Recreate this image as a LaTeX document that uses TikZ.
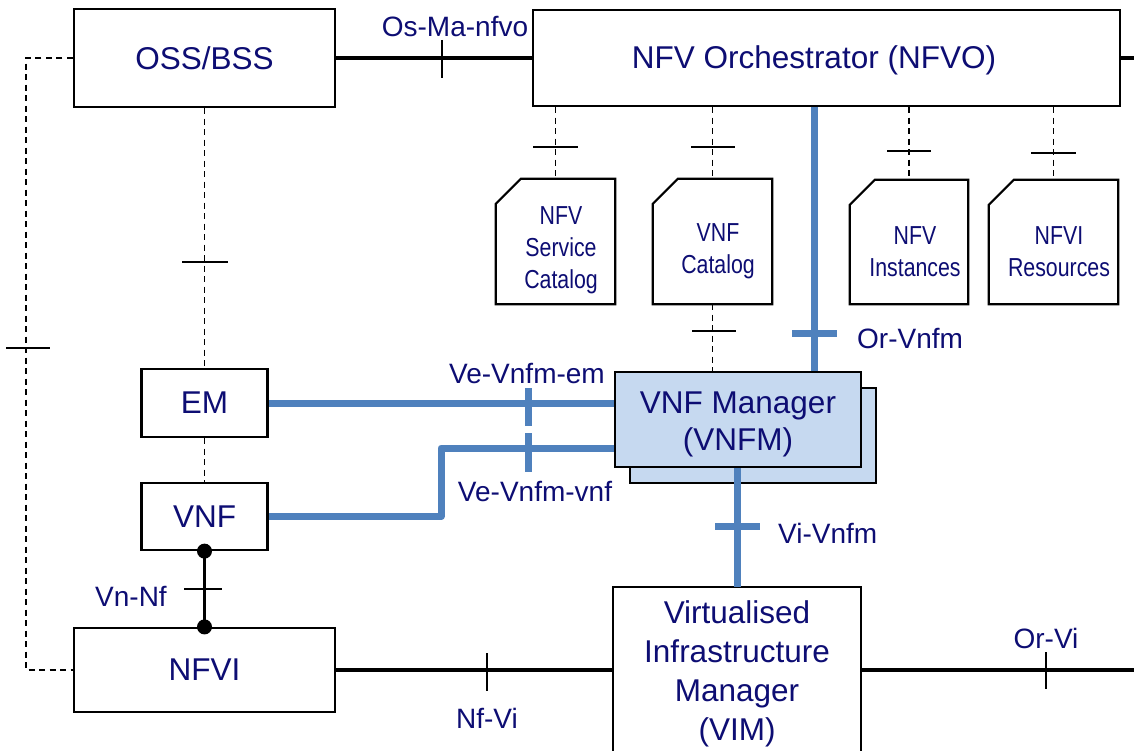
\documentclass[tikz,border=0pt]{standalone}
\usepackage{fontspec}
\setmainfont{Liberation Sans}
\newfontfamily\narrowfont[FakeStretch=0.82]{Liberation Sans}
\usetikzlibrary{calc}
\definecolor{navy}{RGB}{13,13,115}
\definecolor{ifblue}{RGB}{79,129,189}
\definecolor{vnfmfill}{RGB}{198,217,240}
\pgfdeclarelayer{bg}
\pgfsetlayers{bg,main}
\begin{document}
\begin{tikzpicture}[x=1pt,y=-1pt,
  box/.style={draw=black, line width=2.2pt, fill=white, inner sep=0pt, text=navy,
    font=\fontsize{31.5}{38.5}\selectfont, align=center},
  catbox/.style={draw=none, inner sep=0pt},
  catline/.style={draw=black, fill=white, line width=2.2pt},
  maintxt/.style={text=navy, font=\fontsize{31.5}{38.5}\selectfont, inner sep=0pt, align=center},
  lbl/.style={text=navy, font=\fontsize{28}{33}\selectfont, inner sep=0pt},
  cattxt/.style={text=navy, font=\narrowfont\fontsize{26}{32}\selectfont, align=center, inner sep=0pt},
  refline/.style={line width=3.8pt, black},
  dsh/.style={line width=1.9pt, black, dash pattern=on 6pt off 4.5pt},
  tick/.style={line width=1.8pt, black},
  bl/.style={line width=7pt, ifblue},
  dot/.style={black},
  ]
\useasboundingbox (0,0) rectangle (1134,751);

% ---- main boxes ----
\node[box, minimum width=261pt, minimum height=98pt] (oss) at (204.5,58) {OSS/BSS};
\node[box, minimum width=587pt, minimum height=96pt] (nfvo) at (826.5,58) {};
\node[maintxt] (nfvot) at (814,60) {NFV Orchestrator (NFVO)};
\node[box, minimum width=126pt, minimum height=68pt] (em) at (204.5,403) {EM};
\node[box, minimum width=126pt, minimum height=67pt] (vnf) at (204.5,516.5) {VNF};
\node[box, minimum width=261pt, minimum height=84pt] (nfvi) at (204.5,670) {NFVI};
\node[box, fill=vnfmfill, minimum width=246pt, minimum height=95pt] (vnfm) at (738,419.5) {};
\node[maintxt, font=\fontsize{31.5}{37}\selectfont] (vnfmt) at (738,424.5) {VNF Manager\\(VNFM)};
\node[box, draw=none, fill=none, minimum width=246pt, minimum height=163pt] (vim) at (737,669.5) {};
\draw[line width=2.2pt] (vim.south west) |- (vim.north east) -- (vim.south east);
\node[maintxt, font=\fontsize{31.5}{39}\selectfont] (vimt) at (737,674) {Virtualised\\Infrastructure\\Manager\\(VIM)};

% ---- catalogs ----
\node[catbox, minimum width=119pt, minimum height=125pt] (cat1) at (555.5,241.5) {};
\node[catbox, minimum width=119pt, minimum height=125pt] (cat2) at (712.5,241.5) {};
\node[catbox, minimum width=118pt, minimum height=124pt] (cat3) at (909,242) {};
\node[catbox, minimum width=129pt, minimum height=124pt] (cat4) at (1053.5,242) {};
\foreach \c in {cat1,cat2,cat3,cat4}{
  \draw[catline] ($(\c.north west)+(0,25)$) -- ($(\c.north west)+(25,0)$)
    -- (\c.north east) -- (\c.south east) -- (\c.south west) -- cycle;
}
\node[cattxt] (cat1t) at (561,250) {NFV\\Service\\Catalog};
\node[cattxt] (cat2t) at (718,251) {VNF\\Catalog};
\node[cattxt] (cat3t) at (915,252) {NFV\\Instances};
\node[cattxt] (cat4t) at (1059,252) {NFVI\\Resources};

% ---- connectors (behind boxes) ----
\begin{pgfonlayer}{bg}
\node[box, fill=vnfmfill, minimum width=246pt, minimum height=95pt] (vnfmb) at (753,435.5) {};
% black reference points
\coordinate (nfvoR) at (1134,58);
\coordinate (vimR) at (1134,670);
\draw[refline] (oss.east) -- (oss.east -| nfvo.west);
\draw[refline] (nfvo.east |- nfvoR) -- (nfvoR);
\draw[refline] (nfvi.east) -- (nfvi.east -| vim.west);
\draw[refline] (vim.east |- vimR) -- (vimR);
\draw[refline] (vnf.south) -- (nfvi.north);
% dashed links
\coordinate (lft) at (26,0);
\draw[dsh] (oss.west) -- (oss.west -| lft) -- (nfvi.west -| lft) -- (nfvi.west);
\draw[dsh] (oss.south) -- (em.north);
\draw[dsh] (em.south) -- (vnf.north);
\draw[dsh] (cat1.north |- nfvo.south) -- (cat1.north);
\draw[dsh] (cat2.north |- nfvo.south) -- (cat2.north);
\draw[dsh] (cat3.north |- nfvo.south) -- (cat3.north);
\draw[dsh] (cat4.north |- nfvo.south) -- (cat4.north);
\draw[dsh] (cat2.south) -- (cat2.south |- vnfm.north);
% blue links
\coordinate (orx) at (814,0);
\coordinate (vix) at (737,0);
\coordinate (bend) at (441,516.5);
\coordinate (vnfy) at (0,448);
\draw[bl] (nfvo.south -| orx) -- (vnfm.north -| orx);
\draw[bl] (em.east) -- (em.east -| vnfm.west);
\draw[bl, line join=round] (vnf.east) -- (bend) -- (bend |- vnfy) -- (vnfy -| vnfm.west);
\end{pgfonlayer}
\draw[bl] (vnfm.south -| vix) -- (vim.north -| vix);

% dots
\fill[dot] (vnf.south) circle (7.5pt);
\fill[dot] (nfvi.north) circle (7.5pt);

% ---- ticks ----
\draw[tick] (442,40) -- (442,78);
\draw[tick] (6,348) -- (50,348);
\draw[tick] (182,262) -- (228,262);
\draw[tick] (533,147) -- (578,147);
\draw[tick] (691,147) -- (735,147);
\draw[tick] (887,151) -- (931,151);
\draw[tick] (1031,153) -- (1076,153);
\draw[tick] (692,331) -- (736,331);
\draw[tick] (184,589) -- (222,589);
\draw[tick] (487,653) -- (487,691);
\draw[tick] (1046,652) -- (1046,689);
\draw[bl] (792,333) -- (837,333);
\draw[bl] (528,388) -- (528,426);
\draw[bl] (528,433) -- (528,472);
\draw[bl] (715,526) -- (760,526);

% ---- labels ----
\node[lbl] (lOsMa) at (455,27) {Os-Ma-nfvo};
\node[lbl, anchor=west] (lOrVnfm) at (857,339) {Or-Vnfm};
\node[lbl] (lVeEm) at (527,374) {Ve-Vnfm-em};
\node[lbl] (lVeVnf) at (535,492) {Ve-Vnfm-vnf};
\node[lbl, anchor=west] (lViVnfm) at (778,533) {Vi-Vnfm};
\node[lbl] (lOrVi) at (1046,638) {Or-Vi};
\node[lbl] (lNfVi) at (487,718) {Nf-Vi};
\node[lbl] (lVnNf) at (131,596) {Vn-Nf};
\end{tikzpicture}
\end{document}
